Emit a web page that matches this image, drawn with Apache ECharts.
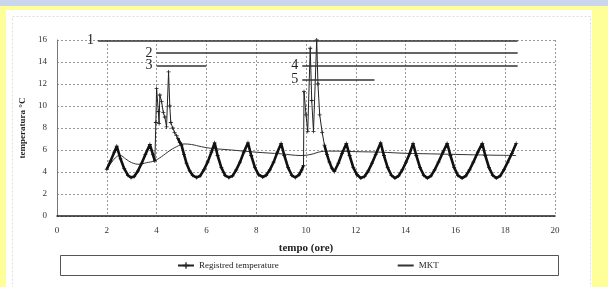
<!DOCTYPE html>
<html>
<head>
<meta charset="utf-8">
<script src="https://cdn.jsdelivr.net/npm/echarts@6/dist/echarts.min.js"></script>
<style>
  html, body { margin: 0; padding: 0; background: #ffff99; }
  #chart { width: 608px; height: 287px; }
</style>
</head>
<body>
<div id="chart"></div>
<script>
// registered temperature (hours, °C)
const tempHours = [
  2.0, 2.15, 2.3, 2.4, 2.55, 2.7, 2.85, 2.97, 3.1, 3.25, 3.4, 3.55, 3.73, 3.85, 3.93,
  3.97, 4.0, 4.07, 4.1, 4.13, 4.2, 4.27, 4.33, 4.4, 4.48, 4.53, 4.57, 4.65, 4.72, 4.8, 4.86,
  4.93, 5.0, 5.1, 5.2, 5.33, 5.45, 5.6, 5.75, 5.9, 6.05, 6.2, 6.33,
  6.45, 6.6, 6.75, 6.9, 7.05, 7.2, 7.35, 7.5, 7.67,
  7.8, 7.95, 8.1, 8.26, 8.4, 8.55, 8.7, 8.85, 9.0,
  9.13, 9.28, 9.43, 9.57, 9.72, 9.83, 9.9,
  9.92, 10.0, 10.07, 10.17, 10.23, 10.3, 10.43, 10.48, 10.55, 10.65, 10.74,
  10.84, 10.94, 11.04, 11.14, 11.3, 11.45, 11.62,
  11.75, 11.9, 12.05, 12.2, 12.35, 12.5, 12.65, 12.8, 13.0,
  13.13, 13.28, 13.43, 13.57, 13.72, 13.87, 14.02, 14.17, 14.3,
  14.43, 14.58, 14.73, 14.87, 15.02, 15.17, 15.32, 15.5, 15.67,
  15.8, 15.95, 16.1, 16.27, 16.42, 16.57, 16.72, 16.9, 17.08,
  17.2, 17.35, 17.5, 17.64, 17.8, 17.95, 18.1, 18.27, 18.44
];
const tempValues = [
  4.25, 5.0, 5.8, 6.35, 5.2, 4.3, 3.7, 3.5, 3.6, 4.1, 4.8, 5.6, 6.5, 5.6, 5.0,
  8.5, 11.6, 9.5, 8.4, 11.0, 10.4, 9.4, 9.0, 8.1, 13.1, 10.0, 8.5, 8.0, 7.6, 7.3, 7.05,
  6.7, 6.45, 5.6, 4.8, 4.1, 3.7, 3.5, 3.65, 4.2, 4.9, 5.8, 6.65,
  5.5, 4.4, 3.7, 3.5, 3.65, 4.2, 4.9, 5.8, 6.65,
  5.5, 4.4, 3.75, 3.55, 3.7, 4.2, 4.9, 5.8, 6.6,
  5.5, 4.4, 3.7, 3.5, 3.75, 4.2, 4.6,
  11.3, 9.2, 7.7, 15.25, 10.5, 7.7, 16.0, 12.0, 9.2, 7.6, 6.45,
  5.6, 4.9, 4.35, 4.05, 4.8, 5.7, 6.6,
  5.5, 4.4, 3.75, 3.45, 3.6, 4.1, 4.8, 5.6, 6.65,
  5.5, 4.4, 3.7, 3.45, 3.65, 4.2, 4.9, 5.7, 6.6,
  5.5, 4.4, 3.7, 3.45, 3.65, 4.2, 4.9, 5.8, 6.6,
  5.5, 4.4, 3.7, 3.45, 3.65, 4.2, 4.9, 5.8, 6.6,
  5.5, 4.4, 3.7, 3.45, 3.65, 4.2, 4.9, 5.7, 6.6
];
// the door-opening peaks, drawn thin
const spikeWindows = [[3.93, 4.86], [9.9, 10.74]];

// mean kinetic temperature
const mktHours = [2.0, 2.2, 2.4, 2.55, 2.75, 3.0, 3.3, 3.6, 3.9, 4.2, 4.5, 4.8, 5.1, 5.4, 5.8,
  6.2, 7.0, 8.0, 9.0, 9.8, 10.2, 10.6, 11.0, 12.0, 13.0, 14.0, 15.0, 16.0, 17.0, 18.44];
const mktValues = [4.25, 4.9, 5.4, 5.5, 5.2, 4.85, 4.7, 4.85, 5.0, 5.4, 5.9, 6.3, 6.55, 6.5, 6.3,
  6.15, 6.0, 5.8, 5.65, 5.5, 5.6, 5.85, 5.9, 5.85, 5.8, 5.7, 5.65, 5.6, 5.55, 5.5];

// numbered reference lines
const refLabels = ['1', '2', '3', '4', '5'];
const refLevels = [15.95, 14.8, 13.7, 13.7, 12.4];
const refStart = [1.65, 4.0, 4.0, 9.85, 9.85];
const refEnd = [18.5, 18.5, 6.0, 18.5, 12.75];

const xTicks = [0, 2, 4, 6, 8, 10, 12, 14, 16, 18, 20];
const yTicks = [0, 2, 4, 6, 8, 10, 12, 14, 16];

const serif = '"Liberation Serif", "DejaVu Serif", serif';

const tempData = tempHours.map((h, i) => [h, tempValues[i]]);
const waveData = tempData.map((p) =>
  spikeWindows.some(([a, b]) => p[0] > a && p[0] < b) ? [p[0], null] : p
);
const mktData = mktHours.map((h, i) => [h, mktValues[i]]);

const refLines = refLabels.map((lab, i) => [
  { coord: [refStart[i], refLevels[i]], label: { formatter: lab } },
  { coord: [refEnd[i], refLevels[i]] },
]);

const chart = echarts.init(document.getElementById('chart'));

const option = {
  animation: false,
  backgroundColor: '#ffff99',
  graphic: [
    { type: 'rect', left: 0, top: 0, shape: { width: 608, height: 6 }, style: { fill: '#c9d6ee' } },
    { type: 'rect', left: 6, top: 10, shape: { width: 586, height: 280 }, style: { fill: '#ffffff' } },
    { type: 'rect', left: 10, top: 14, shape: { width: 578, height: 280 },
      style: { fill: 'none', stroke: '#dddddd', lineWidth: 1, lineDash: [2, 2] } },
    { type: 'rect', left: 58, top: 253, shape: { width: 498, height: 20 },
      style: { fill: 'none', stroke: '#555555', lineWidth: 1 } },
  ],
  grid: { left: 57, right: 53, top: 40, bottom: 71 },
  legend: {
    data: [
      { name: 'Registred temperature' },
      { name: 'MKT', itemStyle: { opacity: 0 } },
    ],
    left: 172,
    top: 256,
    itemWidth: 16,
    itemHeight: 8,
    itemGap: 118,
    textStyle: { fontFamily: serif, fontSize: 9, color: '#222' },
  },
  xAxis: {
    type: 'value',
    min: 0,
    max: 20,
    interval: 2,
    name: 'tempo (ore)',
    nameLocation: 'middle',
    nameGap: 27,
    nameTextStyle: { fontFamily: serif, fontSize: 11, fontWeight: 'bold', color: '#222' },
    axisLine: { lineStyle: { color: '#222', width: 1.5 } },
    axisTick: { show: false },
    axisLabel: {
      fontFamily: serif, fontSize: 9, color: '#333', margin: 10,
      customValues: xTicks,
    },
    splitLine: { show: true, lineStyle: { color: '#999', type: [2, 2], width: 1 } },
  },
  yAxis: {
    type: 'value',
    min: 0,
    max: 16,
    interval: 2,
    name: 'temperatura °C',
    nameLocation: 'middle',
    nameGap: 17,
    nameTextStyle: { fontFamily: serif, fontSize: 9, fontWeight: 'bold', color: '#222' },
    axisLine: { show: true, lineStyle: { color: '#777', width: 1 } },
    axisTick: { show: false },
    axisLabel: {
      fontFamily: serif, fontSize: 9, color: '#333', margin: 10,
      customValues: yTicks,
    },
    splitLine: { show: true, lineStyle: { color: '#999', type: [2, 2], width: 1 } },
  },
  series: [
    {
      name: 'Registred temperature',
      type: 'line',
      data: tempData,
      symbol: 'path://M4,0h2v4h4v2h-4v4h-2v-4h-4v-2h4z',
      symbolSize: 4,
      itemStyle: { color: '#222' },
      lineStyle: { color: '#222', width: 1 },
      z: 3,
    },
    {
      name: 'wave',
      type: 'line',
      data: waveData,
      symbol: 'none',
      connectNulls: false,
      lineStyle: { color: '#111', width: 2.6 },
      z: 4,
    },
    {
      name: 'MKT',
      type: 'line',
      data: mktData,
      smooth: 0.4,
      symbol: 'none',
      itemStyle: { color: '#222' },
      lineStyle: { color: '#333', width: 1 },
      z: 2,
    },
    {
      name: 'refs',
      type: 'line',
      data: [],
      markLine: {
        silent: true,
        symbol: 'none',
        lineStyle: { color: '#333', width: 1.5, type: 'solid' },
        label: {
          show: true,
          position: 'start',
          distance: 4,
          fontFamily: serif,
          fontSize: 14,
          color: '#222',
        },
        data: refLines,
      },
    },
  ],
};

chart.setOption(option);
</script>
</body>
</html>
